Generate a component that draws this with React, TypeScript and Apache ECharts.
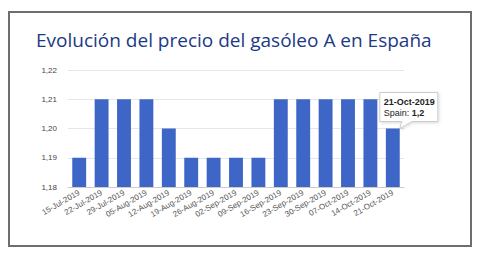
import React, { useEffect, useRef } from "react";
import * as echarts from "echarts";

const title = "Evolución del precio del gasóleo A en España";
const seriesName = "Spain";
const categories = [
  "15-Jul-2019", "22-Jul-2019", "29-Jul-2019", "05-Aug-2019", "12-Aug-2019",
  "19-Aug-2019", "26-Aug-2019", "02-Sep-2019", "09-Sep-2019", "16-Sep-2019",
  "23-Sep-2019", "30-Sep-2019", "07-Oct-2019", "14-Oct-2019", "21-Oct-2019",
];
const values = [1.19, 1.21, 1.21, 1.21, 1.2, 1.19, 1.19, 1.19, 1.19, 1.21, 1.21, 1.21, 1.21, 1.21, 1.2];
const yTicks = [1.18, 1.19, 1.2, 1.21, 1.22];
const highlightIndex = 14;

const fmt = (v: number) => v.toFixed(2).replace(".", ",");
const fmtShort = (v: number) => String(Number(v.toFixed(2))).replace(".", ",");

export default function App() {
  const ref = useRef<HTMLDivElement>(null);
  useEffect(() => {
    if (!ref.current) return;
    const chart = echarts.init(ref.current, null, { renderer: "svg" });
    const font = "'Liberation Sans', Arial, sans-serif";
    chart.setOption({
      animation: false,
      grid: { left: 68, right: 76, top: 70, bottom: 69 },
      xAxis: {
        type: "category",
        data: categories,
        axisTick: { show: false },
        axisLine: { lineStyle: { color: "#cccccc" } },
        axisLabel: {
          interval: 0,
          rotate: 30,
          fontSize: 8,
          color: "#555555",
          fontFamily: font,
          margin: 5,
        },
      },
      yAxis: {
        type: "value",
        min: yTicks[0],
        max: yTicks[yTicks.length - 1],
        interval: 0.01,
        axisLine: { show: false },
        axisTick: { show: false },
        splitLine: { lineStyle: { color: "#e6e6e6" } },
        axisLabel: {
          fontSize: 8,
          color: "#444444",
          fontFamily: font,
          margin: 11,
          formatter: (v: number) => fmt(v),
        },
      },
      series: [
        {
          name: seriesName,
          type: "bar",
          data: values,
          barCategoryGap: "38%",
          itemStyle: { color: "#3d66c6" },
        },
      ],
    });

    const p = chart.convertToPixel({ seriesIndex: 0 }, [highlightIndex, values[highlightIndex]]) as number[];
    const px = p[0] + 7;
    const py = p[1];
    const bx = px - 20;
    const by = py - 36;
    const bw = 58;
    const bh = 29;
    chart.setOption({
      graphic: [
        {
          type: "rect",
          shape: { x: 9, y: 12, width: 462, height: 234 },
          style: { fill: "none", stroke: "#6e6e6e", lineWidth: 2 },
          silent: true,
        },
        {
          type: "text",
          x: 36,
          y: 30,
          style: {
            text: title,
            fill: "#1c3985",
            font: "19px 'Open Sans', 'Noto Sans', sans-serif",
          },
        },
        {
          type: "polygon",
          shape: {
            points: [
              [bx, by],
              [bx + bw, by],
              [bx + bw, by + bh],
              [px + 12, by + bh],
              [px, py],
              [px + 2, by + bh],
              [bx, by + bh],
            ],
          },
          style: {
            fill: "#ffffff",
            stroke: "#cccccc",
            lineWidth: 1,
            shadowBlur: 3,
            shadowColor: "rgba(0,0,0,0.15)",
            shadowOffsetX: 1,
            shadowOffsetY: 1,
          },
        },
        {
          type: "text",
          x: bx + 4,
          y: by + 5,
          style: {
            text: categories[highlightIndex],
            fill: "#222222",
            font: `bold 9px ${font}`,
          },
        },
        {
          type: "text",
          x: bx + 4,
          y: by + 16,
          style: {
            text: `${seriesName}: {b|${fmtShort(values[highlightIndex])}}`,
            fill: "#222222",
            font: `9px ${font}`,
            rich: { b: { fontWeight: "bold", fontSize: 9, fontFamily: font, fill: "#222222" } },
          },
        },
      ],
    });

    return () => chart.dispose();
  }, []);
  return (
    <div
      ref={ref}
      style={{ position: "fixed", left: 0, top: 0, width: 480, height: 256, background: "#ffffff" }}
    />
  );
}
